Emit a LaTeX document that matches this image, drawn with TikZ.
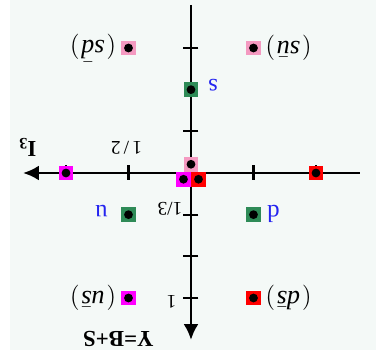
\documentclass[tikz,border=0pt]{standalone}
\usepackage{fontspec}
\setmainfont{Liberation Serif}
\usetikzlibrary{arrows.meta}
\definecolor{mpink}{HTML}{F49AC1}
\definecolor{mmagenta}{HTML}{FF00FF}
\definecolor{mred}{HTML}{FF0000}
\definecolor{qgreen}{HTML}{2E8B57}
\definecolor{qblue}{HTML}{2424F0}
\definecolor{bgtint}{HTML}{F4F9F7}
\newcommand{\mesonpair}[1]{$\Bigl(\kern1pt#1\kern1pt\Bigr)$}

\begin{document}
\begin{tikzpicture}[x=2.5cm,y=2.5cm,rotate=180,transform shape,
   axis/.style={line width=1.7pt},
   axtick/.style={line width=1.2pt},
   hadron/.style={rectangle,fill=#1,minimum size=8.5pt,inner sep=0pt,
             path picture={\fill[black] (path picture bounding box.center) circle (2.5pt);}},
   qname/.style={text=qblue,font=\fontsize{14}{16}\selectfont},
   num/.style={font=\fontsize{11}{13}\selectfont},
   axname/.style={font=\fontsize{13}{15}\selectfont\bfseries,inner sep=1pt},
   pair/.style={font=\fontsize{15}{17}\selectfont,inner sep=0.5pt}]
  \useasboundingbox (-1.48,-1.384) rectangle (1.528,1.456);
  \fill[bgtint] (-1.48,-1.384) rectangle (1.448,1.416);
  % axes
  \coordinate (i3lo) at (-1.352,0);
  \coordinate (i3hi) at (1.344,0);
  \coordinate (ylo) at (0,-1.344);
  \coordinate (yhi) at (0,1.336);
  \draw[axis,-{Latex[length=9pt,width=8.5pt]}] (i3lo) -- (i3hi);
  \draw[axis,-{Latex[length=9pt,width=8.5pt]}] (ylo) -- (yhi);
  \foreach \x in {-1,-0.5,0.5,1}
    \draw[axtick] (\x,-0.06) -- (\x,0.06);
  \foreach \y in {-1,-1/3,1/3,2/3,1}
    \draw[axtick] (-0.06,\y) -- (0.06,\y);
  \node[axname] (i3) at (1.308,-0.204) {I\textsubscript{3}};
  \node[axname] (hyp) at (0.58,1.33) {Y=B+S};
  \node[num] (half) at (0.516,-0.2) {1\,/\,2};
  \node[num] (third) at (0.168,0.29) {1/3};
  \node[num] (one) at (0.156,1.03) {1};
  % quarks
  \node[hadron=qgreen] (u) at (0.5,1/3) {};
  \node[hadron=qgreen] (d) at (-0.5,1/3) {};
  \node[hadron=qgreen] (s) at (0,-2/3) {};
  \node[qname] (ulbl) at (0.716,0.304) {u};
  \node[qname] (dlbl) at (-0.66,0.328) {d};
  \node[qname] (slbl) at (-0.176,-0.704) {s};
  % mesons
  \node[hadron=mpink] (kbar0) at (0.5,-1) {};
  \node[hadron=mpink] (kminus) at (-0.5,-1) {};
  \node[hadron=mmagenta] (kplus) at (0.5,1) {};
  \node[hadron=mred] (k0) at (-0.5,1) {};
  \node[hadron=mmagenta] (piplus) at (1,0) {};
  \node[hadron=mred] (piminus) at (-1,0) {};
  \node[hadron=mpink] (eta) at (0,-0.07) {};
  \node[hadron=mmagenta] (pi0a) at (0.06,0.05) {};
  \node[hadron=mred] (pi0b) at (-0.06,0.05) {};
  \node[pair] (kbar0lbl) at (0.784,-1) {\mesonpair{\textit{s}\bar{\textit{d}}}};
  \node[pair] (kminuslbl) at (-0.78,-1) {\mesonpair{\textit{s}\bar{\textit{u}}}};
  \node[pair] (kpluslbl) at (0.784,1) {\mesonpair{\textit{u}\bar{\textit{s}}}};
  \node[pair] (k0lbl) at (-0.78,1) {\mesonpair{\textit{d}\bar{\textit{s}}}};
\end{tikzpicture}
\end{document}
